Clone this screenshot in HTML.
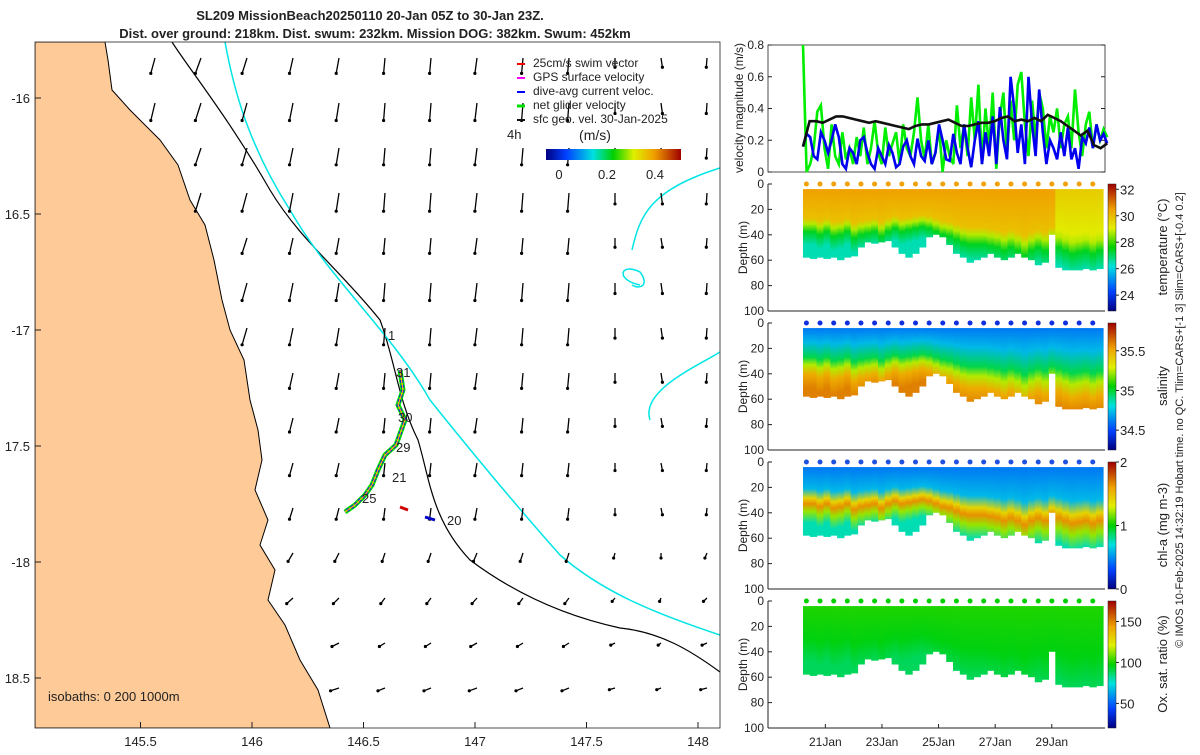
<!DOCTYPE html>
<html><head><meta charset="utf-8">
<style>
body{margin:0;background:#fff;font-family:"Liberation Sans",sans-serif;}
svg text{font-family:"Liberation Sans",sans-serif;fill:#222;}
</style></head>
<body>
<svg id="s" width="1200" height="750" viewBox="0 0 1200 750" xmlns="http://www.w3.org/2000/svg">
<defs>
<linearGradient id="jet" x1="0" y1="0" x2="1" y2="0">
<stop offset="0" stop-color="#000080"/><stop offset="0.15" stop-color="#0040ff"/><stop offset="0.35" stop-color="#00e0e0"/><stop offset="0.5" stop-color="#00d000"/><stop offset="0.65" stop-color="#e0f000"/><stop offset="0.8" stop-color="#f0a000"/><stop offset="1" stop-color="#a00000"/></linearGradient>
<linearGradient id="jetv" x1="0" y1="1" x2="0" y2="0">
<stop offset="0" stop-color="#000080"/><stop offset="0.15" stop-color="#0040ff"/><stop offset="0.35" stop-color="#00e0e0"/><stop offset="0.5" stop-color="#00d000"/><stop offset="0.65" stop-color="#e0f000"/><stop offset="0.8" stop-color="#f0a000"/><stop offset="1" stop-color="#a00000"/></linearGradient>
<clipPath id="mapclip"><rect x="35" y="42" width="685" height="686"/></clipPath>
</defs>
<g id="title">
<text x="370" y="20" text-anchor="middle" font-size="13" font-weight="bold">SL209 MissionBeach20250110 20-Jan 05Z to 30-Jan 23Z.</text>
<text x="375" y="38" text-anchor="middle" font-size="13" font-weight="bold">Dist. over ground: 218km. Dist. swum: 232km. Mission DOG: 382km. Swum: 452km</text>
</g>
<g id="map" clip-path="url(#mapclip)"></g>
<rect x="35" y="42" width="685" height="686" fill="none" stroke="#222" stroke-width="0.8"/>
<g id="mapaxes"></g>
<g id="legend">
<line x1="517" y1="64" x2="525" y2="64" stroke="red" stroke-width="2"/><text x="533" y="67" font-size="12">25cm/s swim vector</text>
<line x1="517" y1="78" x2="525" y2="78" stroke="magenta" stroke-width="2"/><text x="533" y="81" font-size="12">GPS surface velocity</text>
<line x1="517" y1="92" x2="525" y2="92" stroke="blue" stroke-width="2"/><text x="533" y="95" font-size="12">dive-avg current veloc.</text>
<line x1="517" y1="106" x2="525" y2="106" stroke="#00e000" stroke-width="3"/><text x="533" y="109" font-size="12">net glider velocity</text>
<line x1="517" y1="120" x2="525" y2="120" stroke="#111" stroke-width="2"/><text x="533" y="123" font-size="12">sfc geo. vel. 30-Jan-2025</text>
<text x="507" y="139" font-size="13">4h</text>
<text x="595" y="140" text-anchor="middle" font-size="14">(m/s)</text>
<rect x="546" y="149" width="135" height="11" fill="url(#jet)"/>
<text x="559" y="179" text-anchor="middle" font-size="13">0</text>
<text x="607" y="179" text-anchor="middle" font-size="13">0.2</text>
<text x="655" y="179" text-anchor="middle" font-size="13">0.4</text>
</g>
<text x="48" y="701" font-size="13">isobaths: 0   200  1000m</text>
<g id="right"></g>
<text transform="translate(1183,420) rotate(-90)" text-anchor="middle" font-size="11">© IMOS 10-Feb-2025 14:32:19 Hobart time. no QC. Tlim=CARS+[-1 3] Slim=CARS+[-0.4 0.2]</text>
</svg>
<script>
// ---------- velocity data (m/s), evenly spaced 20-Jan 05Z .. 30-Jan 23Z ----------
const blackVel=[0.16,0.32,0.32,0.31,0.33,0.35,0.35,0.34,0.33,0.32,0.31,0.32,0.31,0.30,0.29,0.28,0.27,0.29,0.30,0.30,0.31,0.32,0.33,0.31,0.29,0.29,0.30,0.31,0.31,0.32,0.34,0.35,0.32,0.33,0.32,0.34,0.32,0.36,0.34,0.32,0.29,0.26,0.23,0.26,0.17,0.15,0.18];
const blueVel=[0.16,0.24,0.22,0.10,0.08,0.25,0.20,0.12,0.20,0.30,0.22,0.05,0.02,0.15,0.12,0.05,0.20,0.22,0.12,0.05,0.02,0.15,0.10,0.05,0.17,0.12,0.03,0.05,0.16,0.20,0.10,0.05,0.21,0.10,0.07,0.20,0.05,0.12,0.30,0.20,0.08,0.07,0.24,0.12,0.05,0.30,0.15,0.03,0.20,0.32,0.05,0.25,0.10,0.35,0.05,0.41,0.20,0.08,0.60,0.40,0.12,0.30,0.05,0.60,0.30,0.10,0.52,0.25,0.05,0.20,0.15,0.08,0.25,0.10,0.28,0.08,0.15,0.02,0.22,0.18,0.28,0.15,0.30,0.20,0.24,0.18];
const greenVel=[0.8,0.0,0.05,0.15,0.38,0.42,0.15,0.02,0.30,0.10,0.05,0.25,0.08,0.15,0.05,0.22,0.10,0.28,0.05,0.15,0.32,0.12,0.05,0.28,0.10,0.18,0.25,0.05,0.30,0.15,0.10,0.25,0.47,0.20,0.08,0.30,0.05,0.12,0.28,0.00,0.20,0.10,0.05,0.42,0.15,0.30,0.10,0.47,0.20,0.55,0.05,0.40,0.15,0.50,0.02,0.35,0.50,0.10,0.45,0.20,0.55,0.63,0.30,0.10,0.45,0.20,0.50,0.40,0.15,0.35,0.25,0.40,0.15,0.30,0.35,0.15,0.52,0.25,0.10,0.30,0.38,0.15,0.30,0.20,0.27,0.22];
// ---------- section data ----------
const bottomDepth=[58,59,58,59,58,60,58,57,50,46,47,46,45,50,55,58,55,50,42,40,42,48,55,58,62,60,58,55,58,60,58,55,58,60,64,62,40,66,68,68,68,67,68,67];
const mixedDepth=[30,30,32,30,33,32,30,34,32,31,30,33,30,28,30,29,28,27,28,30,32,33,35,37,38,38,38,39,40,42,40,42,45,42,40,42,38,40,42,44,43,42,44,42];
const tempTicks=[24,26,28,30,32], salTicks=[34.5,35,35.5], chlTicks=[0,1,2], oxTicks=[50,100,150];
const velTicks=[0,0.2,0.4,0.6,0.8], depthTicks=[0,20,40,60,80,100];
const dateLabels=['21Jan','23Jan','25Jan','27Jan','29Jan'], dateDays=[0.79,2.79,4.79,6.79,8.79];
// ---------- map data ----------
const lonTicks=[145.5,146,146.5,147,147.5,148], latTicks=[-16,-16.5,-17,-17.5,-18,-18.5];
const arrowU=[-0.05,-0.04,-0.06,-0.08,-0.07,-0.05,-0.04,-0.02,-0.02,-0.03,-0.02,-0.02,0,0.02,-0.01];
const arrowV=[-0.22,-0.25,-0.24,-0.26,-0.22,-0.25,-0.24,-0.22,-0.20,-0.18,-0.16,-0.12,-0.08,-0.05,-0.04];
const NS='http://www.w3.org/2000/svg';
function el(t,a,p){const e=document.createElementNS(NS,t);for(const k in a)e.setAttribute(k,a[k]);p.appendChild(e);return e;}
const lx=v=>252+(v-146)*223, ly=v=>98+(-16-v)*232;
// map
const map=document.getElementById('map');
let m=el('rect',{x:35,y:42,width:685,height:686,fill:'#fff'},map);
const coast=[[105,42],[108,60],[112,90],[130,110],[160,140],[178,165],[190,200],[205,225],[214,260],[222,300],[230,330],[244,360],[250,400],[258,430],[262,460],[255,490],[268,520],[260,545],[275,570],[268,600],[285,625],[300,660],[318,690],[330,728]];
m=el('path',{d:'M35,42 L'+coast.map(p=>p.join(',')).join(' L')+' L35,728 Z',fill:'#fdca98',stroke:'#000','stroke-width':1},map);

m=el('path',{d:'M172,42 C190,70 230,120 270,190 C300,240 340,270 380,320 C395,360 398,400 418,440 C430,480 432,520 470,560 C510,590 560,615 620,628 C660,632 690,650 720,672',fill:'none',stroke:'#000','stroke-width':1.2},map);

m=el('path',{d:'M225,42 C232,80 245,140 290,210 C330,280 390,330 430,400 C470,450 520,510 560,555 C600,590 650,612 720,635',fill:'none',stroke:'#00e5e5','stroke-width':1.5},map);

m=el('path',{d:'M632,250 C640,215 650,190 720,168 M640,285 C615,280 620,262 640,272 C650,285 640,290 632,285 M650,420 C640,390 700,365 720,352',fill:'none',stroke:'#00e5e5','stroke-width':1.5},map);
// arrows
for(let c=0;c<15;c++)for(let r=0;r<15;r++){
 const x=63+c*46, y=58+r*45;
 const ci=Math.min(coast.length-1,Math.max(0,Math.round((y-42)/29)));
 if(x<coast[ci][0]+12) continue;
 const u=arrowU[c]+(r>10?-0.08*(r-10)/4:0), v=arrowV[r]*(c>11?0.6:1);
 const a=el('line',{x1:x,y1:y,x2:x+u*70,y2:y-v*70,stroke:'#000','stroke-width':1.3},map);
 
 el('circle',{cx:x+u*70,cy:y-v*70,r:1.6,fill:'#000'},map);
}
// track
const track=[[400,370],[403,390],[398,405],[405,420],[396,445],[385,455],[378,470],[372,485],[365,495],[355,505],[345,512]];
m=el('polyline',{points:track.map(p=>p.join(',')).join(' '),fill:'none',stroke:'#00e000','stroke-width':5},map);

el('polyline',{points:track.map(p=>p.join(',')).join(' '),fill:'none',stroke:'#0000ff','stroke-width':3,'stroke-dasharray':'3 2'},map);
el('polyline',{points:track.map(p=>p.join(',')).join(' '),fill:'none',stroke:'#ffc000','stroke-width':1.2},map);
el('line',{x1:400,y1:507,x2:408,y2:510,stroke:'#c00','stroke-width':3},map);
el('line',{x1:425,y1:517,x2:435,y2:520,stroke:'#00c','stroke-width':3},map);
[['1',388,340],['31',396,377],['30',398,422],['29',396,452],['21',392,482],['25',362,503],['20',447,525]].forEach(t=>{const e=el('text',{x:t[1],y:t[2],'font-size':13},map);e.textContent=t[0];});
// map axes
const ma=document.getElementById('mapaxes');
lonTicks.forEach(v=>{el('line',{x1:lx(v),y1:728,x2:lx(v),y2:722,stroke:'#222'},ma);const t=el('text',{x:lx(v),y:746,'text-anchor':'middle','font-size':13},ma);t.textContent=v;});
latTicks.forEach(v=>{el('line',{x1:35,y1:ly(v),x2:41,y2:ly(v),stroke:'#222'},ma);const t=el('text',{x:30,y:ly(v)+5,'text-anchor':'end','font-size':13},ma);t.textContent=(v%1===0?v:String(-v));});
// right panels
const R=document.getElementById('right');
const X0=768,X1=1105, tx=t=>803+t*28.3, T=10.75;
const vy=v=>172-v*158.75;
el('rect',{x:X0,y:45,width:X1-X0,height:127,fill:'none',stroke:'#222','stroke-width':0.8},R);
velTicks.forEach(v=>{el('line',{x1:X0,y1:vy(v),x2:X0+4,y2:vy(v),stroke:'#222'},R);el('line',{x1:X1,y1:vy(v),x2:X1-4,y2:vy(v),stroke:'#222'},R);const t=el('text',{x:X0-4,y:vy(v)+4,'text-anchor':'end','font-size':12},R);t.textContent=v;});
let lab=el('text',{transform:'translate(743,108) rotate(-90)','text-anchor':'middle','font-size':12},R);lab.textContent='velocity magnitude (m/s)';
function line(arr,col,w,name){const n=arr.length;const p=el('polyline',{points:arr.map((v,i)=>tx(i*T/(n-1)).toFixed(1)+','+vy(v).toFixed(1)).join(' '),fill:'none',stroke:col,'stroke-width':w},R);}
line(greenVel,'#00ee00',2.6,'net-glider-velocity-line');
line(blueVel,'#0000ee',2.6,'dive-avg-current-line');
line(blackVel,'#111',2.6,'surface-geostrophic-line');
// sections
const panels=[
 {y0:184,name:'temperature',label:'temperature (°C)',ticks:tempTicks,lo:22.8,hi:32.4,dot:'#f0a000',stops:[[0,0.8],[0.9,0.74],[1.05,0.62],[1.25,0.48],[1.6,0.38]]},
 {y0:323,name:'salinity',label:'salinity',ticks:salTicks,lo:34.25,hi:35.85,dot:'#1030e0',stops:[[0,0.22],[0.5,0.3],[0.9,0.45],[1.1,0.62],[1.35,0.78],[1.7,0.84]]},
 {y0:462,name:'chlorophyll',label:'chl-a (mg m-3)',ticks:chlTicks,lo:0,hi:2,dot:'#2050e0',stops:[[0,0.22],[0.7,0.3],[0.95,0.7],[1.1,0.82],[1.3,0.6],[1.6,0.38]]},
 {y0:601,name:'oxygen',label:'Ox. sat. ratio (%)',ticks:oxTicks,lo:20,hi:175,dot:'#00d000',stops:[[0,0.52],[1,0.49],[1.6,0.44]]}
];
const jet=[[0,[0,0,128]],[0.15,[0,64,255]],[0.35,[0,224,224]],[0.5,[0,208,0]],[0.65,[224,240,0]],[0.8,[240,160,0]],[1,[160,0,0]]];
function cmap(f){f=Math.max(0,Math.min(1,f));for(let i=1;i<jet.length;i++)if(f<=jet[i][0]){const a=jet[i-1],b=jet[i],k=(f-a[0])/(b[0]-a[0]);return 'rgb('+a[1].map((c,j)=>Math.round(c+(b[1][j]-c)*k)).join(',')+')';}}
const defs=document.querySelector('defs');
panels.forEach((P,pi)=>{
 const dy=d=>P.y0+d*1.27;
 el('line',{x1:X0,y1:P.y0,x2:X0,y2:dy(100),stroke:'#222'},R);
 el('line',{x1:X0,y1:dy(100),x2:X1,y2:dy(100),stroke:'#222'},R);
 depthTicks.forEach(d=>{el('line',{x1:X0,y1:dy(d),x2:X0+4,y2:dy(d),stroke:'#222'},R);const t=el('text',{x:X0-4,y:dy(d)+4,'text-anchor':'end','font-size':12},R);t.textContent=d;});
 const l=el('text',{transform:'translate(747,'+dy(50)+') rotate(-90)','text-anchor':'middle','font-size':12},R);l.textContent='Depth (m)';
 const n=bottomDepth.length, w=(X1-2-803)/n;
 const g=el('g',{},R);
 for(let i=0;i<n;i++){
  const gid='g'+pi+'_'+i, md=mixedDepth[i], bd=bottomDepth[i];
  const lg=el('linearGradient',{id:gid,x1:0,y1:0,x2:0,y2:1,gradientUnits:'userSpaceOnUse'},defs);
  lg.setAttribute('y1',dy(4));lg.setAttribute('y2',dy(70));
  P.stops.forEach(s=>{const d=Math.min(70,s[0]*md);el('stop',{offset:((d-4)/66).toFixed(3),'stop-color':cmap(s[1]-(pi==0&&i>36&&s[0]<1?0.08:0))},lg);});
  const c=el('rect',{x:(803+i*w).toFixed(1),y:dy(4),width:(w+0.6).toFixed(1),height:(bd-4)*1.27,fill:'url(#'+gid+')'},g);
  
  if(i%2==0) el('circle',{cx:803+i*w+w/2,cy:dy(0),r:2.5,fill:P.dot},g);
 }
 const cb=el('rect',{x:1108,y:P.y0,width:8,height:127,fill:'url(#jetv)',stroke:'#222','stroke-width':0.5},R);
 
 P.ticks.forEach(v=>{const yy=P.y0+127-(v-P.lo)/(P.hi-P.lo)*127;el('line',{x1:1116,y1:yy,x2:1119,y2:yy,stroke:'#222'},R);const t=el('text',{x:1120,y:yy+5,'font-size':13},R);t.textContent=v;});
 const cl=el('text',{transform:'translate(1167,'+(P.y0+63)+') rotate(-90)','text-anchor':'middle','font-size':13},R);cl.textContent=P.label;
});
dateLabels.forEach((d,i)=>{const x=tx(dateDays[i]);el('line',{x1:x,y1:728,x2:x,y2:724,stroke:'#222'},R);const t=el('text',{x:x,y:746,'text-anchor':'middle','font-size':12},R);t.textContent=d;});
</script>
</body></html>
